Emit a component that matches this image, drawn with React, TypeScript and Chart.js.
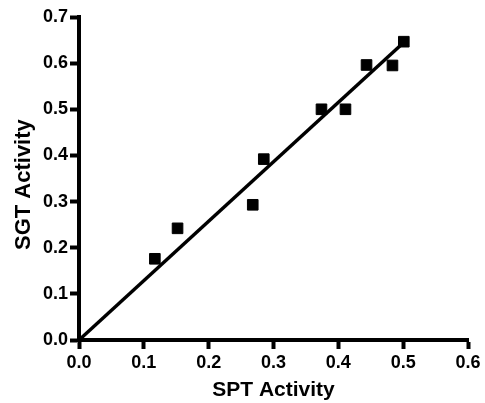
import React, { useEffect, useRef } from "react";
import { Chart, registerables } from "chart.js";

Chart.register(...registerables);

const sptActivity = [0.117, 0.152, 0.268, 0.285, 0.374, 0.411, 0.4435, 0.4835, 0.501];
const sgtActivity = [0.176, 0.242, 0.293, 0.392, 0.5, 0.5, 0.596, 0.595, 0.6465];
const fitX = [0, 0.497];
const fitY = [0, 0.64];
const xTicks = [0, 0.1, 0.2, 0.3, 0.4, 0.5, 0.6];
const yTicks = [0, 0.1, 0.2, 0.3, 0.4, 0.5, 0.6, 0.7];
const xTitle = "SPT Activity";
const yTitle = "SGT Activity  ";

const FONT = "'Liberation Sans', Arial, Helvetica, sans-serif";

export default function App() {
  const ref = useRef<HTMLCanvasElement | null>(null);
  useEffect(() => {
    if (!ref.current) return;
    const chart = new Chart(ref.current, {
      type: "scatter",
      data: {
        datasets: [
          {
            type: "line",
            data: fitX.map((x, i) => ({ x, y: fitY[i] })),
            borderColor: "#000",
            borderWidth: 3.5,
            pointRadius: 0,
            fill: false,
          } as any,
          {
            type: "scatter",
            data: sptActivity.map((x, i) => ({ x, y: sgtActivity[i] })),
            pointStyle: "rect",
            pointRadius: 7.5,
            backgroundColor: "#000",
            borderColor: "#000",
            borderWidth: 1,
          },
        ],
      },
      options: {
        animation: false,
        responsive: true,
        maintainAspectRatio: false,
        layout: { padding: { top: 17, right: 17, left: 0, bottom: 0 } },
        plugins: { legend: { display: false }, tooltip: { enabled: false } },
        scales: {
          x: {
            type: "linear",
            min: 0,
            max: 0.6,
            afterBuildTicks: (s: any) => {
              s.ticks = xTicks.map((v) => ({ value: v }));
            },
            afterFit: (s: any) => {
              s.height = 63;
            },
            ticks: {
              color: "#000",
              padding: 3,
              font: { family: FONT, size: 18, weight: "bold" },
              callback: (v: any) => Number(v).toFixed(1),
            },
            grid: {
              drawOnChartArea: false,
              drawTicks: true,
              tickLength: 9,
              tickWidth: 4,
              tickColor: "#000",
            },
            border: { color: "#000", width: 4 },
            title: {
              display: true,
              text: xTitle,
              color: "#000",
              font: { family: FONT, size: 21, weight: "bold", lineHeight: 1.2 },
              padding: { top: 0, bottom: 0 },
            },
          },
          y: {
            type: "linear",
            min: 0,
            max: 0.7,
            afterBuildTicks: (s: any) => {
              s.ticks = yTicks.map((v) => ({ value: v }));
            },
            afterFit: (s: any) => {
              s.width = 79;
            },
            ticks: {
              color: "#000",
              padding: 2,
              font: { family: FONT, size: 18, weight: "bold" },
              callback: (v: any) => Number(v).toFixed(1),
            },
            grid: {
              drawOnChartArea: false,
              drawTicks: true,
              tickLength: 9,
              tickWidth: 4,
              tickColor: "#000",
            },
            border: { color: "#000", width: 4 },
            title: {
              display: true,
              text: yTitle,
              color: "#000",
              font: { family: FONT, size: 22, weight: "bold", lineHeight: 1.2 },
              padding: { top: 11, bottom: 0 },
            },
          },
        },
      },
    });
    return () => chart.destroy();
  }, []);
  return (
    <div style={{ position: "fixed", left: 0, top: 0, width: 485, height: 403, background: "#fff" }}>
      <canvas ref={ref} />
    </div>
  );
}
